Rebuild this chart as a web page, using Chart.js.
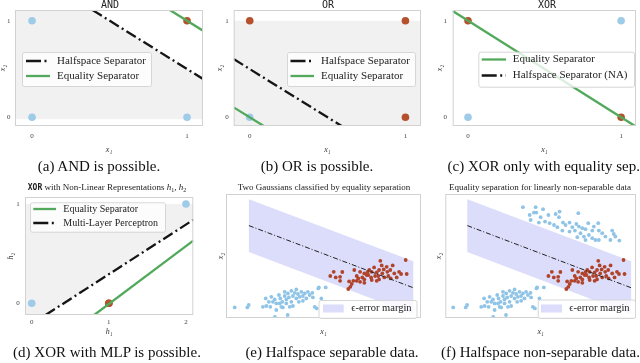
<!DOCTYPE html>
<html>
<head>
<meta charset="utf-8">
<script src="https://cdn.jsdelivr.net/npm/chart.js@4.4.1/dist/chart.umd.min.js"></script>
<style>
  html, body { margin: 0; padding: 0; background: #fff; }
  body { width: 640px; height: 363px; position: relative; overflow: hidden; }
  canvas { position: absolute; }
  .gt { position: absolute; top: -1px; width: 100px; text-align: center; font: 10px 'DejaVu Sans Mono', monospace; line-height: 12px; color: #222; }
  .st { position: absolute; top: 182px; width: 260px; text-align: center; font: 9px 'Liberation Serif', serif; line-height: 11px; color: #222; white-space: nowrap; }
  .st .mono { font: bold 8px 'DejaVu Sans Mono', monospace; }
  .st sub { font-size: 6px; vertical-align: -2px; line-height: 0; }
  .cap { position: absolute; width: 300px; text-align: center; font: 15px 'Liberation Serif', serif; line-height: 16px; color: #111; white-space: nowrap; }
</style>
</head>
<body>
<canvas id="cA"></canvas>
<canvas id="cB"></canvas>
<canvas id="cC"></canvas>
<canvas id="cD"></canvas>
<canvas id="cE"></canvas>
<canvas id="cF"></canvas>

<div class="gt" style="left:60px">AND</div>
<div class="gt" style="left:278px">OR</div>
<div class="gt" style="left:497px">XOR</div>
<div class="st" style="left:-23px"><span class="mono">XOR</span> with Non-Linear Representations <i>h</i><sub>1</sub>, <i>h</i><sub>2</sub></div>
<div class="st" style="left:194px">Two Gaussians classified by equality separation</div>
<div class="st" style="left:410px">Equality separation for linearly non-separable data</div>

<div class="cap" style="left:-51px;top:158px">(a) AND is possible.</div>
<div class="cap" style="left:167px;top:158px">(b) OR is possible.</div>
<div class="cap" style="left:340px;top:158px;text-align:right">(c) XOR only with equality sep.</div>
<div class="cap" style="left:-43px;top:344px">(d) XOR with MLP is possible.</div>
<div class="cap" style="left:182px;top:344px">(e) Halfspace separable data.</div>
<div class="cap" style="left:340px;top:344px;text-align:right">(f) Halfspace non-separable data.</div>

<script>
// ---- data ----
const gateX = [0, 0, 1, 1];
const gateY = [0, 1, 0, 1];
const andLabels = [0, 0, 0, 1];
const orLabels = [0, 1, 1, 1];
const xorLabels = [0, 1, 1, 0];

// hidden representation of the four XOR inputs
const mlpH1 = [0, 1, 1, 2];
const mlpH2 = [0, 0, 0, 1];

const unitTicks = [0, 1];
const mlpTicks = [0, 1, 2];

// separator segments (end points inside each axis box)
const andHalfspace = [{x: 0.39, y: 1.111}, {x: 1.103, y: 0.397}];
const andEquality = [{x: 0.889, y: 1.111}, {x: 1.103, y: 0.897}];
const orHalfspace = [{x: -0.103, y: 0.603}, {x: 0.59, y: -0.09}];
const orEquality = [{x: -0.103, y: 0.103}, {x: 0.09, y: -0.09}];
const xorEquality = [{x: -0.10, y: 1.10}, {x: 1.10, y: -0.10}];
const mlpLine = [{x: 0.18, y: -0.118}, {x: 2.095, y: 0.84}];
const mlpEquality = [{x: 0.81, y: -0.118}, {x: 2.095, y: 0.631}];

const andShadeFloor = -0.02;
const orShadeCeil = 1.0;
const mlpShadeCeil = 1.0;

// equality separator and margin for the gaussian panels
const sepLine = [{x: -3.73, y: 1.52}, {x: 4.49, y: -1.587}];
const epsMargin = 1.32;

const redCluster = [
  [4.11,-0.20],[2.84,-0.24],[2.91,-0.47],[3.46,-0.47],[3.01,-0.67],[3.34,-0.70],
  [3.78,-0.79],[3.88,-0.90],[4.16,-0.90],[2.53,-0.57],[2.29,-0.70],[1.54,-0.70],
  [1.83,-0.79],[2.04,-0.87],[2.41,-0.79],[2.66,-0.82],[2.78,-0.70],[2.94,-0.87],
  [3.19,-0.79],[1.66,-1.00],[1.74,-1.12],[1.94,-1.07],[2.16,-0.95],[2.38,-1.07],
  [2.58,-1.00],[2.78,-1.17],[3.04,-1.07],[3.24,-1.00],[2.66,-1.24],[2.41,-1.20],
  [2.04,-1.17],[2.04,-1.34],[1.66,-1.24],[1.49,-1.24],[1.28,-1.27],[1.41,-1.40],
  [1.34,-1.54],[1.24,-1.65],[0.51,-0.79],[0.34,-1.00],[0.61,-1.07],[0.83,-1.04],
  [0.83,-1.24],[0.94,-0.80],[3.54,-0.87],[3.66,-1.07],[2.24,-0.95],[2.74,-1.00],
  [3.16,-0.54],[3.36,-1.12],[1.83,-1.29],[2.21,-0.79]
];

const blueLower = [
  [-4.44,-2.57],[-3.81,-2.57],[-3.74,-2.45],[-3.03,-2.54],[-2.89,-2.12],[-2.73,-2.29],
  [-2.66,-2.54],[-2.43,-3.04],[-2.61,-2.04],[-2.44,-2.17],[-2.36,-2.37],[-2.23,-1.95],
  [-2.16,-2.12],[-2.06,-2.29],[-2.03,-2.57],[-1.94,-2.00],[-1.86,-2.17],[-1.78,-1.87],
  [-1.73,-2.07],[-1.61,-2.29],[-1.53,-2.00],[-1.44,-1.84],[-1.36,-2.12],[-1.28,-1.90],
  [-1.19,-2.04],[-1.11,-1.79],[-1.03,-2.00],[-0.94,-1.87],[-0.86,-2.12],[-0.78,-1.79],
  [-0.69,-1.95],[-0.56,-1.84],[-0.53,-2.07],[-0.23,-1.57],[0.11,-1.57],[-0.11,-2.12],
  [-0.44,-2.54],[-1.53,-2.50],[-2.11,-2.54],[-1.86,-2.37],[-1.23,-2.29],[-2.36,-2.70],
  [-2.86,-2.50],[-1.03,-2.24],[-1.94,-1.79],[-1.61,-1.74],[-2.53,-2.29],[-1.36,-1.67],
  [-1.69,-2.54],[-2.19,-2.37],[-0.26,-1.62],[-0.34,-2.62],[-1.79,-2.95]
];

const blueUpper = [
  [-0.94,2.44],[-0.30,2.44],[0.07,2.34],[-0.39,2.17],[-0.55,1.80],[-0.14,1.67],
  [0.17,1.72],[0.40,1.64],[0.62,1.55],[0.70,2.10],[0.90,2.22],[0.87,1.94],
  [1.07,1.67],[1.20,1.55],[1.40,1.67],[1.54,1.44],[1.84,2.14],[1.74,1.60],
  [1.87,1.47],[2.04,1.39],[2.20,1.34],[1.95,1.14],[2.12,0.97],[2.37,1.05],
  [2.54,1.27],[2.84,1.64],[2.87,1.27],[2.87,0.80],[3.20,0.97],[3.54,1.27],
  [3.70,0.97],[3.90,0.77],[3.45,0.80],[2.54,0.89],[2.20,0.80],[1.79,0.94],
  [1.40,1.22],[1.04,1.27],[0.79,1.44],[1.67,1.27],[2.70,0.80],[3.62,1.10],
  [3.04,1.14],[2.34,1.64],[2.62,1.47],[0.34,2.05],[-0.05,1.94],[-0.60,2.05],
  [-0.27,2.17]
];

// ---- styles ----
const BLUE = '#9ecbe7';
const RED = '#b5512c';
const GREEN = '#52a95b';
const INK = '#151515';
const GRAY = '#f1f1f1';
const BAND = '#dcdcfb';
const DOT_BLUE = '#8fc4e7';
const DOT_RED = '#b0442a';
const DASHDOT = [11, 3.5, 2, 3.5];
const LEGEND_DASHDOT = [15, 3.5, 2, 3.5];

function classPoints(xs, ys, labels, cls) {
  const out = [];
  xs.forEach((x, i) => { if (labels[i] === cls) out.push({x: x, y: ys[i]}); });
  return out;
}
function pairs(list) { return list.map(p => ({x: p[0], y: p[1]})); }

function pts(data, color, r) {
  return { data: data, backgroundColor: color, borderColor: color, borderWidth: 0, pointRadius: r, showLine: false, order: 2 };
}
function seg(data, color, w, dash) {
  return { data: data, showLine: true, borderColor: color, borderWidth: w, borderDash: dash || [], pointRadius: 0, fill: false, order: 1 };
}
function area(data, color) {
  return { data: data, showLine: true, fill: 'shape', backgroundColor: color, borderColor: 'rgba(0,0,0,0)', borderWidth: 0, pointRadius: 0, order: 3 };
}

const framePlugin = {
  id: 'frame',
  afterDatasetsDraw(chart) {
    const a = chart.chartArea, ctx = chart.ctx;
    ctx.save();
    ctx.strokeStyle = '#d2d2d2';
    ctx.lineWidth = 1;
    ctx.strokeRect(a.left + 0.5, a.top + 0.5, a.right - a.left - 1, a.bottom - a.top - 1);
    ctx.restore();
  }
};

const boxLegend = {
  id: 'boxLegend',
  afterDraw(chart, args, o) {
    if (!o || !o.items) return;
    const ctx = chart.ctx;
    ctx.save();
    ctx.beginPath();
    ctx.roundRect(o.x + 0.5, o.y + 0.5, o.w, o.h, 2);
    ctx.fillStyle = 'rgba(255,255,255,0.8)';
    ctx.fill();
    ctx.strokeStyle = '#d6d6d6';
    ctx.lineWidth = 1;
    ctx.stroke();
    o.items.forEach((it, i) => {
      const y = o.rows[i];
      if (it.patch) {
        ctx.fillStyle = it.color;
        ctx.fillRect(o.sx, y - it.h / 2, o.sw, it.h);
      } else {
        ctx.beginPath();
        ctx.strokeStyle = it.color;
        ctx.lineWidth = it.width;
        ctx.setLineDash(it.dash || []);
        ctx.moveTo(o.sx, y);
        ctx.lineTo(o.sx + o.sw, y);
        ctx.stroke();
        ctx.setLineDash([]);
      }
      ctx.fillStyle = '#222';
      ctx.font = o.font;
      ctx.textBaseline = 'middle';
      ctx.fillText(it.text, o.tx, y);
    });
    ctx.restore();
  }
};

const TICK_FONT = { family: "'Liberation Serif', serif", size: 7, lineHeight: 1.2 };
const TITLE_FONT = { family: "'Liberation Serif', 'DejaVu Serif', serif", size: 8, style: 'italic', lineHeight: 1 };

function makePanel(p) {
  const cv = document.getElementById(p.id);
  cv.width = p.cw; cv.height = p.ch;
  cv.style.left = p.cx + 'px'; cv.style.top = p.cy + 'px';
  cv.style.width = p.cw + 'px'; cv.style.height = p.ch + 'px';

  const lg = p.legend;
  const legendOpts = {
    x: lg.x - p.cx, y: lg.y - p.cy, w: lg.w, h: lg.h,
    rows: lg.rows.map(r => r - p.cy), sx: lg.sx - p.cx, sw: lg.sw, tx: lg.tx - p.cx,
    font: lg.font, items: lg.items
  };
  const showTicks = p.xTicks.length > 0;

  new Chart(cv, {
    type: 'scatter',
    data: { datasets: p.datasets },
    options: {
      responsive: false,
      animation: false,
      devicePixelRatio: 1,
      layout: { padding: { left: 0, top: p.plot.t - p.cy, right: p.cx + p.cw - p.plot.r, bottom: 0 } },
      plugins: { legend: { display: false }, tooltip: { enabled: false }, boxLegend: legendOpts },
      scales: {
        x: {
          type: 'linear', min: p.xRange[0], max: p.xRange[1],
          grid: { display: false, drawTicks: false }, border: { display: false },
          ticks: { display: showTicks, font: TICK_FONT, color: '#444', padding: p.xTickY - p.plot.b - 4.2 },
          afterBuildTicks: s => { s.ticks = p.xTicks.map(v => ({ value: v })); },
          afterFit: s => { s.height = p.cy + p.ch - p.plot.b; },
          title: { display: true, text: p.xTitle, font: TITLE_FONT, color: '#333',
                   padding: { top: 0, bottom: p.cy + p.ch - 4 - p.xTitleY } }
        },
        y: {
          type: 'linear', min: p.yRange[0], max: p.yRange[1],
          grid: { display: false, drawTicks: false }, border: { display: false },
          ticks: { display: showTicks, font: TICK_FONT, color: '#444', padding: p.plot.l - p.yTickRight },
          afterBuildTicks: s => { s.ticks = p.yTicks.map(v => ({ value: v })); },
          afterFit: s => { s.width = p.plot.l - p.cx; },
          title: { display: true, text: p.yTitle, font: TITLE_FONT, color: '#333',
                   padding: { top: p.yTitleX - p.cx - 4, bottom: 0 } }
        }
      }
    },
    plugins: [framePlugin, boxLegend]
  });
}

// shaded regions built from the separators and axis limits
const aX = [-0.11, 1.103], aY = [-0.09, 1.111];
const bX = [-0.103, 1.10], bY = [-0.09, 1.111];
const cX = [-0.10, 1.097], cY = [-0.09, 1.111];
const dX = [-0.087, 2.095], dY = [-0.118, 1.07];
const eX = [-4.875, 4.875], eY = [-3.1, 3.1];
const fX = [-4.835, 4.735], fY = [-3.1, 3.1];

const andShade = [
  {x: aX[0], y: andShadeFloor}, {x: aX[1], y: andShadeFloor},
  andHalfspace[1], andHalfspace[0], {x: aX[0], y: aY[1]}
];
const orShade = [
  {x: bX[0], y: bY[0]}, {x: bX[1], y: bY[0]}, {x: bX[1], y: orShadeCeil}, {x: bX[0], y: orShadeCeil}
];
const mlpShade = [
  {x: dX[0], y: dY[0]}, mlpLine[0], mlpLine[1], {x: dX[1], y: mlpShadeCeil}, {x: dX[0], y: mlpShadeCeil}
];
const bandShape = [
  {x: sepLine[0].x, y: sepLine[0].y + epsMargin}, {x: sepLine[1].x, y: sepLine[1].y + epsMargin},
  {x: sepLine[1].x, y: sepLine[1].y - epsMargin}, {x: sepLine[0].x, y: sepLine[0].y - epsMargin}
];

const twoLineLegend = (first, second) => [first, second];
const halfItem = text => ({ text: text, color: INK, width: 2.3, dash: LEGEND_DASHDOT });
const eqItem = { text: 'Equality Separator', color: GREEN, width: 2.3 };
const bandItem = { text: 'ϵ-error margin', patch: true, color: BAND, h: 8 };

makePanel({
  id: 'cA', cx: -1, cy: 0, cw: 214, ch: 160, plot: { l: 15, t: 10, r: 203, b: 126 },
  xRange: aX, yRange: aY, xTicks: unitTicks, yTicks: unitTicks,
  xTitle: 'x₁', yTitle: 'x₂', xTitleY: 149.6, yTitleX: 3.3, xTickY: 136, yTickRight: 10.5,
  datasets: [
    area(andShade, GRAY),
    pts(classPoints(gateX, gateY, andLabels, 0), BLUE, 3.8),
    pts(classPoints(gateX, gateY, andLabels, 1), RED, 3.8),
    seg(andHalfspace, INK, 2.3, DASHDOT),
    seg(andEquality, GREEN, 2.3)
  ],
  legend: { x: 22, y: 52, w: 129, h: 34, rows: [61, 76], sx: 26, sw: 24, tx: 57,
            font: "11px 'Liberation Serif', serif", items: twoLineLegend(halfItem('Halfspace Separator'), eqItem) }
});

makePanel({
  id: 'cB', cx: 214, cy: 0, cw: 212, ch: 160, plot: { l: 233.7, t: 10, r: 421, b: 126 },
  xRange: bX, yRange: bY, xTicks: unitTicks, yTicks: unitTicks,
  xTitle: 'x₁', yTitle: 'x₂', xTitleY: 149.6, yTitleX: 220.3, xTickY: 136, yTickRight: 228.7,
  datasets: [
    area(orShade, GRAY),
    pts(classPoints(gateX, gateY, orLabels, 0), BLUE, 3.8),
    pts(classPoints(gateX, gateY, orLabels, 1), RED, 3.8),
    seg(orHalfspace, INK, 2.3, DASHDOT),
    seg(orEquality, GREEN, 2.3)
  ],
  legend: { x: 287, y: 52, w: 128, h: 34, rows: [61, 76], sx: 290.5, sw: 23.5, tx: 321,
            font: "11px 'Liberation Serif', serif", items: twoLineLegend(halfItem('Halfspace Separator'), eqItem) }
});

makePanel({
  id: 'cC', cx: 432, cy: 0, cw: 208, ch: 160, plot: { l: 452.7, t: 10, r: 638.3, b: 126 },
  xRange: cX, yRange: cY, xTicks: unitTicks, yTicks: unitTicks,
  xTitle: 'x₁', yTitle: 'x₂', xTitleY: 149.6, yTitleX: 440, xTickY: 136, yTickRight: 447,
  datasets: [
    pts(classPoints(gateX, gateY, xorLabels, 0), BLUE, 3.8),
    pts(classPoints(gateX, gateY, xorLabels, 1), RED, 3.8),
    seg(xorEquality, GREEN, 2.3)
  ],
  legend: { x: 478.3, y: 51.7, w: 155.7, h: 35, rows: [59.5, 75.5], sx: 481.7, sw: 24.3, tx: 512.7,
            font: "11px 'Liberation Serif', serif", items: twoLineLegend(eqItem, halfItem('Halfspace Separator (NA)')) }
});

makePanel({
  id: 'cD', cx: 4, cy: 180, cw: 209, ch: 165, plot: { l: 25, t: 197, r: 193.3, b: 315 },
  xRange: dX, yRange: dY, xTicks: mlpTicks, yTicks: unitTicks,
  xTitle: 'h₁', yTitle: 'h₂', xTitleY: 332, yTitleX: 10.5, xTickY: 322, yTickRight: 19.7,
  datasets: [
    area(mlpShade, GRAY),
    pts(classPoints(mlpH1, mlpH2, xorLabels, 0), BLUE, 3.8),
    pts(classPoints(mlpH1, mlpH2, xorLabels, 1), RED, 3.8),
    seg(mlpLine, INK, 2.3, DASHDOT),
    seg(mlpEquality, GREEN, 2.3)
  ],
  legend: { x: 30, y: 202.3, w: 135, h: 29.4, rows: [209, 223], sx: 33.3, sw: 22.7, tx: 63.3,
            font: "10px 'Liberation Serif', serif", items: twoLineLegend(eqItem, halfItem('Multi-Layer Perceptron')) }
});

makePanel({
  id: 'cE', cx: 214, cy: 180, cw: 212, ch: 165, plot: { l: 226, t: 194, r: 421, b: 318 },
  xRange: eX, yRange: eY, xTicks: [], yTicks: [],
  xTitle: 'x₁', yTitle: 'x₂', xTitleY: 332, yTitleX: 221.3, xTickY: 322, yTickRight: 222,
  datasets: [
    area(bandShape, BAND),
    pts(pairs(blueLower), DOT_BLUE, 1.9),
    pts(pairs(redCluster), DOT_RED, 1.9),
    seg(sepLine, '#222', 1, [5, 2, 1, 2])
  ],
  legend: { x: 318.5, y: 300, w: 98, h: 18, rows: [308.5], sx: 323, sw: 20.7, tx: 351.3,
            font: "10.5px 'Liberation Serif', 'DejaVu Serif', serif", items: [bandItem] }
});

makePanel({
  id: 'cF', cx: 432, cy: 180, cw: 208, ch: 165, plot: { l: 445.3, t: 194, r: 636.7, b: 318 },
  xRange: fX, yRange: fY, xTicks: [], yTicks: [],
  xTitle: 'x₁', yTitle: 'x₂', xTitleY: 332, yTitleX: 438.7, xTickY: 322, yTickRight: 440,
  datasets: [
    area(bandShape, BAND),
    pts(pairs(blueLower), DOT_BLUE, 1.9),
    pts(pairs(blueUpper), DOT_BLUE, 1.9),
    pts(pairs(redCluster), DOT_RED, 1.9),
    seg(sepLine, '#222', 1, [5, 2, 1, 2])
  ],
  legend: { x: 537.7, y: 299.5, w: 97.3, h: 18.5, rows: [308.5], sx: 541, sw: 21, tx: 569.3,
            font: "10.5px 'Liberation Serif', 'DejaVu Serif', serif", items: [bandItem] }
});
</script>
</body>
</html>
